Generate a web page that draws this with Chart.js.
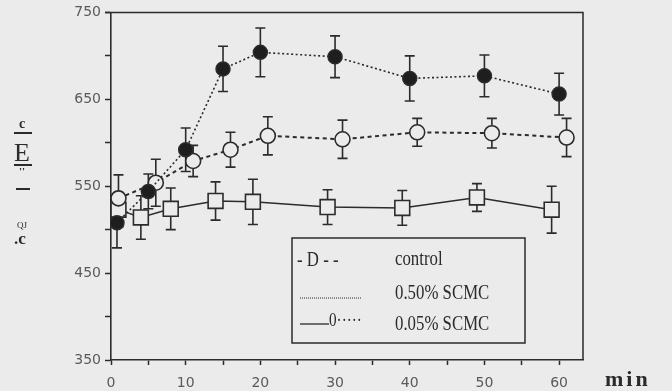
<!DOCTYPE html>
<html>
<head>
<meta charset="utf-8">
<script src="https://cdn.jsdelivr.net/npm/chart.js@4/dist/chart.umd.min.js"></script>
<style>
  html, body { margin: 0; padding: 0; background: #ebebeb; }
  canvas { display: block; }
</style>
</head>
<body>
<canvas id="chart" width="672" height="391"></canvas>
<script>
// time (min), means and error half-widths
const controlTime = [1, 4, 8, 14, 19, 29, 39, 49, 59];
const controlMean = [523, 514, 524, 533, 532, 526, 525, 537, 523];
const controlErr  = [20, 25, 24, 22, 26, 20, 20, 16, 27];

const highTime = [0.8, 5, 10, 15, 20, 30, 40, 50, 60];
const highMean = [508, 544, 592, 685, 704, 699, 674, 677, 656];
const highErr  = [29, 20, 25, 26, 28, 24, 26, 24, 24];

const lowTime = [1, 6, 11, 16, 21, 31, 41, 51, 61];
const lowMean = [536, 554, 579, 592, 608, 604, 612, 611, 606];
const lowErr  = [27, 27, 18, 20, 22, 22, 16, 17, 22];

const seriesNames = ['control', '0.50% SCMC', '0.05% SCMC'];
const yTickLabels = [350, 450, 550, 650, 750];
const xTickLabels = [0, 10, 20, 30, 40, 50, 60];

const BG = '#ebebeb';
const INK = '#2b2b2b';

const toPoints = (xs, ys) => xs.map((x, i) => ({ x: x, y: ys[i] }));

// background fill
const bgPlugin = {
  id: 'bg',
  beforeDraw(chart) {
    const ctx = chart.ctx;
    ctx.save();
    ctx.fillStyle = BG;
    ctx.fillRect(0, 0, chart.width, chart.height);
    ctx.restore();
  }
};

// error bars, drawn under the markers
const errorBars = {
  id: 'errorBars',
  beforeDatasetsDraw(chart) {
    const ctx = chart.ctx;
    const xs = chart.scales.x, ys = chart.scales.y;
    const sets = [[highTime, highMean, highErr], [lowTime, lowMean, lowErr], [controlTime, controlMean, controlErr]];
    ctx.save();
    ctx.strokeStyle = INK;
    ctx.lineWidth = 1.6;
    sets.forEach(([t, m, e]) => {
      t.forEach((tv, i) => {
        const px = xs.getPixelForValue(tv);
        const top = ys.getPixelForValue(m[i] + e[i]);
        const bot = ys.getPixelForValue(m[i] - e[i]);
        ctx.beginPath();
        ctx.moveTo(px, top); ctx.lineTo(px, bot);
        ctx.moveTo(px - 5, top); ctx.lineTo(px + 5, top);
        ctx.moveTo(px - 5, bot); ctx.lineTo(px + 5, bot);
        ctx.stroke();
      });
    });
    ctx.restore();
  }
};

// condensed serif text, like the printed legend
function squeezed(ctx, text, x, y, size) {
  ctx.save();
  ctx.translate(x, y);
  ctx.scale(0.8, 1);
  ctx.font = size + 'px "Liberation Serif"';
  ctx.fillText(text, 0, 0);
  ctx.restore();
}

// frame, legend box, axis captions
const decor = {
  id: 'decor',
  afterDraw(chart) {
    const ctx = chart.ctx;
    const a = chart.chartArea;
    ctx.save();
    // top and right frame
    ctx.strokeStyle = INK;
    ctx.lineWidth = 1.5;
    ctx.beginPath();
    ctx.moveTo(a.left - 6, a.top);
    ctx.lineTo(a.right, a.top);
    ctx.lineTo(a.right, a.bottom);
    ctx.stroke();

    // legend box
    ctx.fillStyle = BG;
    ctx.fillRect(292, 238, 233, 105);
    ctx.strokeRect(292, 238, 233, 105);

    ctx.fillStyle = INK;
    ctx.textBaseline = 'middle';
    ctx.textAlign = 'left';
    squeezed(ctx, '- D - -', 297, 260, 21);
    squeezed(ctx, seriesNames[0], 395, 259, 21);
    squeezed(ctx, seriesNames[1], 395, 293, 21);
    squeezed(ctx, seriesNames[2], 395, 324, 21);

    // dotted sample
    ctx.lineWidth = 1;
    ctx.setLineDash([1, 1]);
    ctx.beginPath();
    ctx.moveTo(300, 298); ctx.lineTo(362, 298);
    ctx.stroke();
    ctx.setLineDash([]);
    // solid + circle sample
    ctx.lineWidth = 1.3;
    ctx.beginPath();
    ctx.moveTo(300, 324); ctx.lineTo(329, 324);
    ctx.stroke();
    squeezed(ctx, '0\u00b7\u00b7\u00b7\u00b7\u00b7', 329, 321, 19);

    // garbled vertical y caption as printed
    ctx.textAlign = 'center';
    ctx.font = 'bold 14px "Liberation Serif"';
    ctx.fillText('c', 22, 124);
    ctx.font = '26px "Liberation Serif"';
    ctx.fillText('E', 22, 154);
    ctx.font = 'bold 11px "Liberation Serif"';
    ctx.fillText("''", 22, 172);
    ctx.font = '9px "Liberation Serif"';
    ctx.fillText('QJ', 22, 226);
    ctx.font = 'bold 17px "Liberation Serif"';
    ctx.fillText('.c', 20, 240);
    ctx.lineWidth = 2;
    ctx.beginPath();
    ctx.moveTo(14, 133); ctx.lineTo(32, 133);
    ctx.moveTo(14, 165); ctx.lineTo(32, 165);
    ctx.moveTo(16, 189); ctx.lineTo(30, 189);
    ctx.stroke();

    // x unit
    ctx.font = 'bold 22px "Liberation Serif"';
    ctx.letterSpacing = '3px';
    ctx.textAlign = 'left';
    ctx.textBaseline = 'alphabetic';
    ctx.fillText('min', 605, 386);
    ctx.restore();
  }
};

new Chart(document.getElementById('chart'), {
  type: 'line',
  data: {
    datasets: [
      {
        label: seriesNames[1],
        data: toPoints(highTime, highMean),
        borderColor: INK,
        borderWidth: 1.6,
        borderDash: [2, 2.5],
        pointStyle: 'circle',
        pointRadius: 7,
        pointBackgroundColor: '#1e1e1e',
        pointBorderColor: INK,
        pointBorderWidth: 1.5
      },
      {
        label: seriesNames[2],
        data: toPoints(lowTime, lowMean),
        borderColor: INK,
        borderWidth: 2,
        borderDash: [4, 3.5],
        pointStyle: 'circle',
        pointRadius: 7.5,
        pointBackgroundColor: BG,
        pointBorderColor: INK,
        pointBorderWidth: 1.6
      },
      {
        label: seriesNames[0],
        data: toPoints(controlTime, controlMean),
        borderColor: INK,
        borderWidth: 1.5,
        pointStyle: 'rect',
        pointRadius: 10.5,
        pointBackgroundColor: BG,
        pointBorderColor: INK,
        pointBorderWidth: 1.6
      }
    ]
  },
  options: {
    responsive: false,
    animation: false,
    events: [],
    layout: { padding: { top: 9, right: 89, bottom: 0, left: 0 } },
    plugins: { legend: { display: false }, tooltip: { enabled: false } },
    scales: {
      x: {
        type: 'linear',
        min: 0,
        max: 63.2,
        afterFit(scale) { scale.height = 31; },
        border: { display: true, color: INK, width: 1.6 },
        grid: { drawOnChartArea: false, color: INK, tickLength: 5, tickWidth: 1.5 },
        ticks: {
          stepSize: 5,
          includeBounds: false,
          autoSkip: false,
          maxRotation: 0,
          padding: 10,
          color: '#5a5a5a',
          font: { family: 'DejaVu Sans', size: 14 },
          callback: v => xTickLabels.includes(v) ? String(v) : ''
        }
      },
      y: {
        min: 350,
        max: 750,
        afterFit(scale) { scale.width = 111; },
        border: { display: true, color: INK, width: 1.6 },
        grid: { drawOnChartArea: false, color: INK, tickLength: 6, tickWidth: 1.5 },
        ticks: {
          stepSize: 50,
          autoSkip: false,
          padding: 4,
          color: '#5a5a5a',
          font: { family: 'DejaVu Sans', size: 14 },
          callback: v => yTickLabels.includes(v) ? String(v) : ''
        }
      }
    }
  },
  plugins: [bgPlugin, errorBars, decor]
});
</script>
</body>
</html>
